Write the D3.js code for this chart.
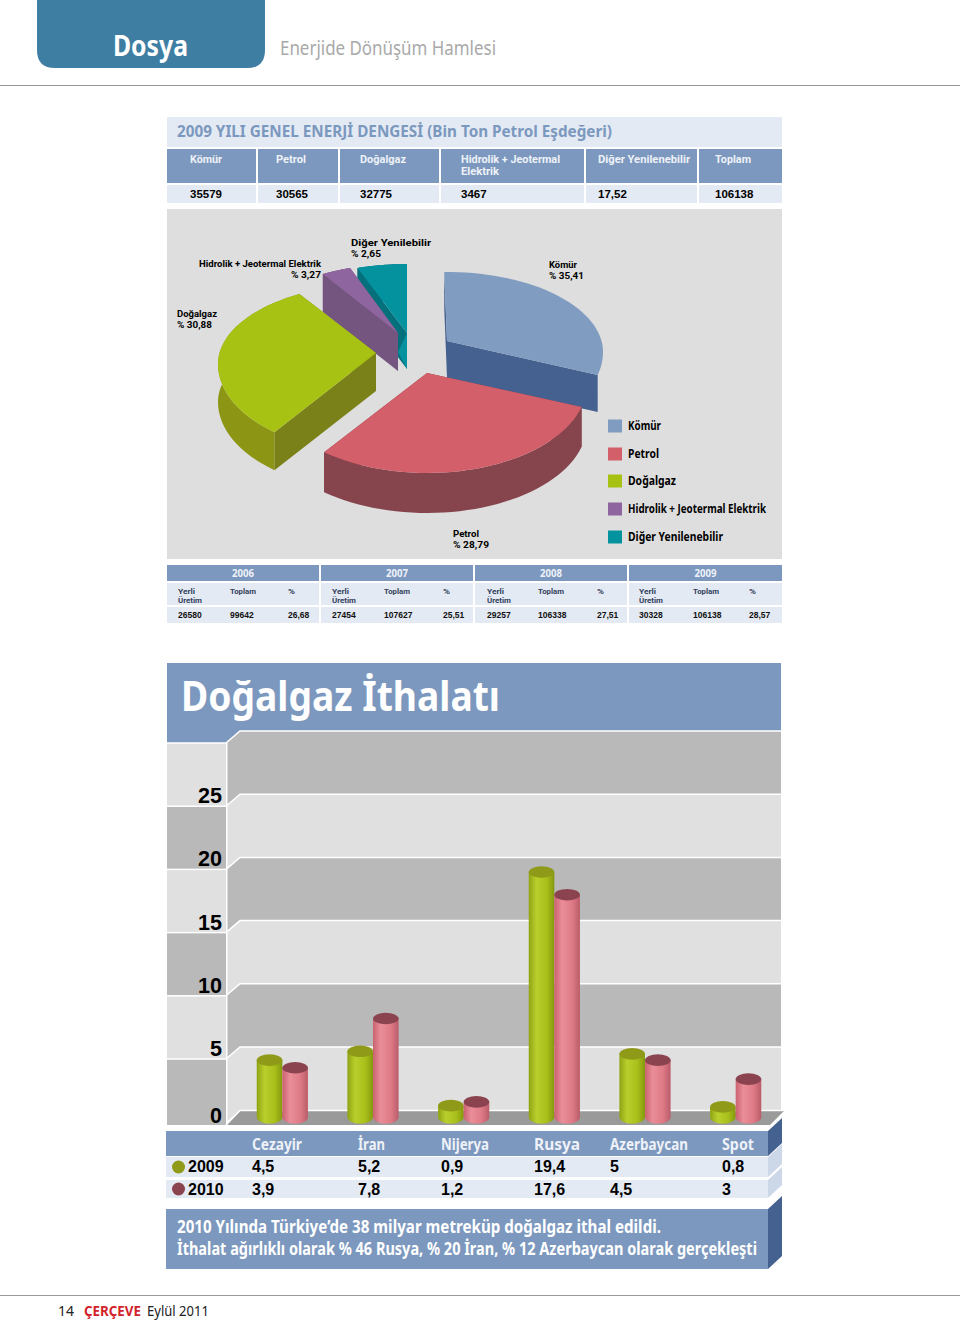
<!DOCTYPE html>
<html><head><meta charset="utf-8">
<script src="https://cdn.jsdelivr.net/npm/d3@7"></script>
<style>html,body{margin:0;padding:0;background:#fff}svg{display:block}</style></head>
<body><div id="c"></div>
<script>
// ---- data ----
const balanceHeaders = ["Kömür","Petrol","Doğalgaz","Hidrolik + Jeotermal|Elektrik","Diğer Yenilenebilir","Toplam"];
const balanceValues = ["35579","30565","32775","3467","17,52","106138"];
const shareNames = ["Kömür","Petrol","Doğalgaz","Hidrolik + Jeotermal Elektrik","Diğer Yenilenebilir"];
const shareValues = [35.41,28.79,30.88,3.27,2.65];
const shareLabels = ["% 35,41","% 28,79","% 30,88","% 3,27","% 2,65"];
const years = ["2006","2007","2008","2009"];
const yearSubHeads = ["Yerli|Üretim","Toplam","%"];
const yearLocal = ["26580","27454","29257","30328"];
const yearTotal = ["99642","107627","106338","106138"];
const yearPct = ["26,68","25,51","27,51","28,57"];
const suppliers = ["Cezayir","İran","Nijerya","Rusya","Azerbaycan","Spot"];
const gas2009 = [4.5,5.2,0.9,19.4,5,0.8];
const gas2010 = [3.9,7.8,1.2,17.6,4.5,3];
const gasText2009 = ["4,5","5,2","0,9","19,4","5","0,8"];
const gasText2010 = ["3,9","7,8","1,2","17,6","4,5","3"];
const yTicks = [0,5,10,15,20,25];

// ---- helpers ----
const W=960,H=1320;
const svg=d3.select("#c").append("svg").attr("width",W).attr("height",H);
const defs=svg.append("defs");
const HUM='"Noto Sans",sans-serif', ARI='"Liberation Sans",Arial,sans-serif', TIGHT='Roboto,sans-serif';
function T(x,y,s,size,o={}){
  const t=svg.append("text").attr("x",x).attr("y",y).text(s)
    .attr("font-family",o.f||HUM).attr("font-size",size).attr("font-weight",o.wt||"bold")
    .attr("fill",o.c||"#000").attr("text-anchor",o.a||"start");
  if(o.w) t.attr("textLength",o.w).attr("lengthAdjust","spacingAndGlyphs");
  return t;
}
// two-line label kept as one text element
function T2(x,y,lines,step,size,widths,o={}){
  const t=svg.append("text").attr("font-family",TIGHT).attr("font-size",size).attr("font-weight","bold")
    .attr("fill",o.c||"#000").attr("text-anchor",o.a||"start");
  lines.forEach((l,i)=>{
    t.append("tspan").attr("x",x).attr("y",y+i*step).text(l)
      .attr("textLength",widths[i]).attr("lengthAdjust","spacingAndGlyphs");
  });
  return t;
}
function R(x,y,w,h,c){return svg.append("rect").attr("x",x).attr("y",y).attr("width",w).attr("height",h).attr("fill",c);}
function P(pts,c){return svg.append("path").attr("d",d3.line()(pts)+"Z").attr("fill",c);}
const BLUE="#7c98be",PALE="#e4eaf3",DARKB="#44618f";

// ---- page furniture ----
svg.append("path").attr("d","M37,0H265V50Q265,68 247,68H55Q37,68 37,50Z").attr("fill","#3e7ea3");
T(113,56,"Dosya",28,{c:"#fff",w:75});
T(280,55,"Enerjide Dönüşüm Hamlesi",19.5,{c:"#a9a9a9",wt:"normal",w:216});
R(0,85,960,1,"#999");
R(0,1295,960,1,"#999");
T(58,1316,"14",15,{wt:"normal",c:"#222",w:16});
T(84,1316,"ÇERÇEVE",15,{c:"#d2232a",w:57});
T(147,1316,"Eylül 2011",15,{wt:"normal",c:"#222",w:62});

// ---- balance table ----
R(167,117,615,30,PALE);
T(177,137,"2009 YILI GENEL ENERJİ DENGESİ (Bin Ton Petrol Eşdeğeri)",16,{c:"#7b98bf",w:435});
const balX=[167,258,340,441,586,699], balEnd=[256,338,439,584,697,782], balText=[190,276,360,461,598,715], balW=[32,30,46,99,92,36];
balanceHeaders.forEach((h,i)=>{
  R(balX[i],149,balEnd[i]-balX[i],34,BLUE);
  R(balX[i],185,balEnd[i]-balX[i],18,PALE);
  const p=h.split("|");
  T2(balText[i],163,p,12,10.2,[balW[i],38],{c:"#eef2f8"});
  T(balText[i],198,balanceValues[i],11.5,{f:ARI});
});

// ---- 3D pie ----
R(167,209,615,350,"#dedede");
const topCol=["#809cc0","#d35f6b","#a8c213","#8f659f","#05929f"];
const faceCol=["#44618f","#86444c","#7a8118","#73557f","#04707c"];
const rimCol=[null,"#86444c","#8d9614","#73557f","#04707c"];
const apexX=[447,427,376,398,407], apexY=[341,373,353,333,333];
const radius=[156,160,158,155,160];
const depth=[37,40,38,38,36];
const viewDeg=[-1,105,220,331,342,360];
const arcs=d3.pie().sort(null).value(d=>d).startAngle(0).endAngle(2*Math.PI)(shareValues);
const bounds=arcs.map(a=>a.startAngle).concat([2*Math.PI]);
const warp=d3.scaleLinear().domain(bounds).range(viewDeg.map(d=>d*Math.PI/180));
const pt=(i,phi,h)=>{const c=Math.cos(phi);return [apexX[i]+radius[i]*Math.sin(phi),apexY[i]+11-(c>0?80:89)*c+h];};
function outline(i,a0,a1,h){return d3.range(0,41).map(k=>pt(i,a0+(a1-a0)*k/40,h));}
[4,3,0,2,1].forEach(i=>{
  const a0=warp(arcs[i].startAngle),a1=warp(arcs[i].endAngle),h=depth[i];
  const ap=[apexX[i],apexY[i]];
  if(rimCol[i])P(outline(i,a0,a1,0).concat(outline(i,a0,a1,h).reverse()),rimCol[i]);
  [a0,a1].forEach(a=>P([ap,pt(i,a,0),pt(i,a,h),[ap[0],ap[1]+h]],faceCol[i]));
  if(i==4)P([ap,[ap[0],ap[1]+h],[ap[0]-9,ap[1]+19]],topCol[i]);
  P([ap].concat(outline(i,a0,a1,0)),topCol[i]);
});
// pie labels
T2(549,268,[shareNames[0],shareLabels[0]],10.5,9.2,[28,35]);
T2(453,537,[shareNames[1],shareLabels[1]],10.5,9.2,[26,36]);
T2(177,317,[shareNames[2],shareLabels[2]],10.5,9.2,[40,35]);
T2(321,267,[shareNames[3],shareLabels[3]],10.5,9.2,[122,30],{a:"end"});
T2(351,246,["Diğer Yenilebilir",shareLabels[4]],10.5,9.2,[80,30]);
// legend
const legY=[426,454,481,509,537], legW=[33,31,48,138,95];
shareNames.forEach((n,i)=>{
  R(608,legY[i]-6.5,14,13,topCol[i]);
  T(628,legY[i]+4,n,12,{w:legW[i]});
});

// ---- yearly table ----
const yrX=[167,321,475,629],yrEnd=[319,473,627,782];
const subX=[[178,230,288],[332,384,443],[487,538,597],[639,693,749]];
years.forEach((y,i)=>{
  const w=yrEnd[i]-yrX[i];
  R(yrX[i],565,w,16,BLUE);R(yrX[i],583,w,22,PALE);R(yrX[i],607,w,16,PALE);
  T((yrX[i]+yrEnd[i])/2,577,y,10,{a:"middle",c:"#eef2f8",w:22});
  yearSubHeads.forEach((h,k)=>{
    const p=h.split("|");
    T2(subX[i][k],594,p,9,7.6,[k==0?17:(k==1?26:7),24],{c:"#33415c"});
  });
  T(subX[i][0],618,yearLocal[i],8.5,{f:ARI,c:"#111"});
  T(subX[i][1],618,yearTotal[i],8.5,{f:ARI,c:"#111"});
  T(subX[i][2],618,yearPct[i],8.5,{f:ARI,c:"#111"});
});

// ---- gas chart ----
const y=d3.scaleLinear().domain([0,25]).range([1117,1117-12.63*25]);
const wallY=d3.scaleLinear().domain([0,30]).range([1122.2,743]);
const GREY="#b9b9b9",LIGHT="#e0e0e0";
// title panel
P([[167,663],[781,663],[781,731],[240,731],[226,743],[167,743]],BLUE);
T(181,711,"Doğalgaz İthalatı",42,{c:"#fff",w:319});
// back wall + side wall bands
const bands=[25,20,15,10,5,0];
bands.forEach((v,i)=>{
  const c=i%2?LIGHT:GREY, top=wallY(v+5)-12, bot=wallY(v)-12;
  P([[226,top+12],[240,top],[781,top],[781,bot],[240,bot],[226,bot+12]],c);
  svg.append("path").attr("d",d3.line()([[226,top+12],[240,top],[781,top]])).attr("fill","none").attr("stroke","#fff").attr("stroke-width",1.5);
  R(167,wallY(v+5),59,(v==0?1125:wallY(v))-wallY(v+5),i%2?GREY:LIGHT);
  R(167,wallY(v+5)-.75,59,1.5,"#fff");
});
P([[226,1125],[240,1111],[784,1111],[770,1125]],"#9a9a9a");
svg.append("path").attr("d",d3.line()([[226,1125],[240,1110.5],[784,1110.5]])).attr("fill","none").attr("stroke","#fff").attr("stroke-width",1.5);
R(226,743,1.5,382,"#fff");
// y labels
yTicks.forEach(v=>{
  T(222,v==0?1123:wallY(v)-3,String(v),22,{f:ARI,a:"end",w:v<10?12:24});
});
// cylinders
function grad(id,stops){
  const g=defs.append("linearGradient").attr("id",id);
  stops.forEach(s=>g.append("stop").attr("offset",s[0]).attr("stop-color",s[1]));
}
grad("gG",[[0,"#8ea312"],[.3,"#b9cf2c"],[.7,"#a9c01b"],[1,"#83990f"]]);
grad("gP",[[0,"#c9626f"],[.3,"#ea8e99"],[.7,"#de7a86"],[1,"#bb5c69"]]);
const x0=d3.scaleBand().domain(suppliers).range([237,781]);
const x1=d3.scaleBand().domain([0,1]).range([x0.bandwidth()/2-25.6,x0.bandwidth()/2+25.6]);
const base=y(0), ry=5.8;
[[gas2009,"url(#gG)","#8f9a18"],[gas2010,"url(#gP)","#8b4350"]].forEach((s,k)=>{
  const g=svg.append("g");
  const cyl=g.selectAll("g").data(s[0]).join("g")
    .attr("transform",(d,i)=>`translate(${x0(suppliers[i])+x1(k)},0)`);
  const bw=x1.bandwidth();
  cyl.append("rect").attr("x",0).attr("width",bw).attr("y",d=>y(d)).attr("height",d=>base-y(d)).attr("fill",s[1]);
  cyl.append("ellipse").attr("cx",bw/2).attr("cy",base).attr("rx",bw/2).attr("ry",ry+1).attr("fill",s[1]);
  cyl.append("ellipse").attr("cx",bw/2).attr("cy",d=>y(d)).attr("rx",bw/2).attr("ry",ry).attr("fill",s[2]);
});
// data table
const colX=[252,358,441,534,610,722], colW=[50,27,48,46,78,32];
const bevel=(x0_,y0,y1,c)=>P([[x0_,y0],[x0_+14,y0-13],[x0_+14,y1-13],[x0_,y1]],c);
R(166,1131,602,25,BLUE);bevel(768,1131,1156,DARKB);
R(166,1157,602,20,PALE);bevel(768,1157,1177,"#ccd8e8");
R(166,1180,602,18,PALE);bevel(768,1180,1198,"#ccd8e8");
suppliers.forEach((s,i)=>{
  T(colX[i],1150,s,15.5,{c:"#eef2f8",w:colW[i]});
  T(colX[i],1172,gasText2009[i],16,{f:ARI});
  T(colX[i],1195,gasText2010[i],16,{f:ARI});
});
svg.append("circle").attr("cx",178.5).attr("cy",1167).attr("r",6.5).attr("fill","#8f9a18");
svg.append("circle").attr("cx",178.5).attr("cy",1189).attr("r",6.5).attr("fill","#8b4350");
T(188,1172,"2009",16,{f:ARI});
T(188,1195,"2010",16,{f:ARI});
R(166,1209,602,60,BLUE);bevel(768,1209,1269,DARKB);
T(177,1233,"2010 Yılında Türkiye’de 38 milyar metreküp doğalgaz ithal edildi.",17,{c:"#fff",w:484});
T(177,1255,"İthalat ağırlıklı olarak % 46 Rusya, % 20 İran, % 12 Azerbaycan olarak gerçekleşti",17,{c:"#fff",w:580});
</script></body></html>
